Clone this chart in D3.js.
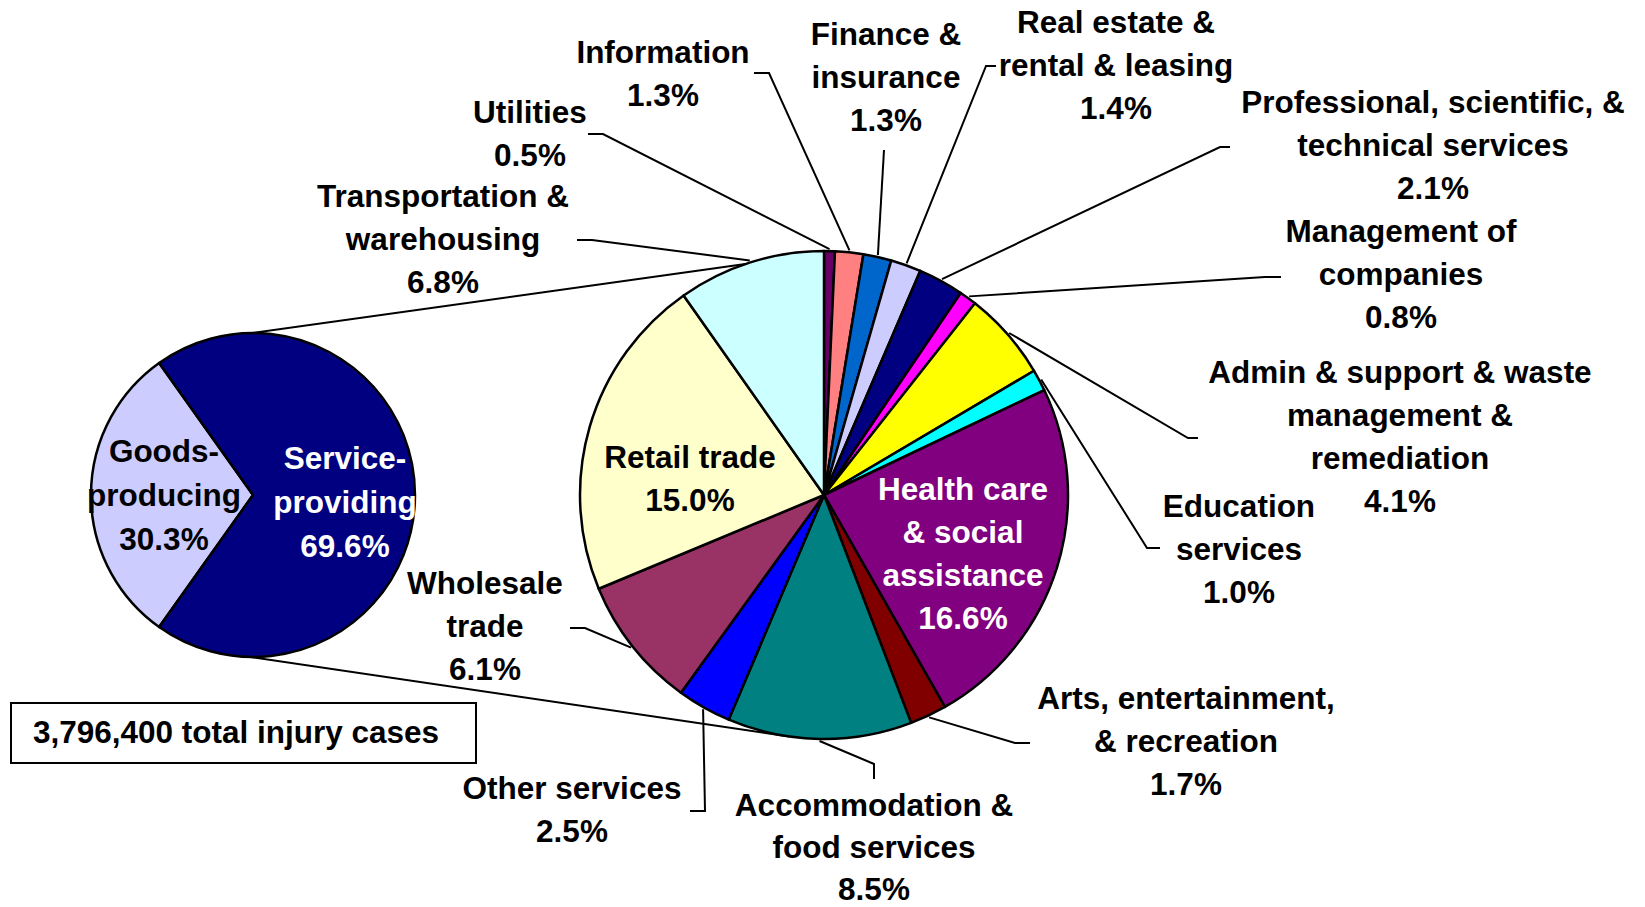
<!DOCTYPE html>
<html>
<head>
<meta charset="utf-8">
<script src="https://cdn.jsdelivr.net/npm/d3@7"></script>
<style>
  body { margin: 0; background: #fff; }
  text { font-family: "Liberation Sans", Arial, sans-serif; font-weight: bold; font-size: 31.5px; }
</style>
</head>
<body>
<script>
// service-providing industries, clockwise from 12 o'clock (percent of all cases)
var industries = ["Utilities", "Information", "Finance &\ninsurance", "Real estate &\nrental & leasing",
  "Professional, scientific, &\ntechnical services", "Management of\ncompanies",
  "Admin & support & waste\nmanagement &\nremediation", "Education\nservices",
  "Health care\n& social\nassistance", "Arts, entertainment,\n& recreation",
  "Accommodation &\nfood services", "Other services", "Wholesale\ntrade", "Retail trade",
  "Transportation &\nwarehousing"];
var shares = [0.5, 1.3, 1.3, 1.4, 2.1, 0.8, 4.1, 1.0, 16.6, 1.7, 8.5, 2.5, 6.1, 15.0, 6.8];
var colors = ["#660066", "#FF8080", "#0066CC", "#CCCCFF", "#000080", "#FF00FF", "#FFFF00", "#00FFFF",
  "#800080", "#800000", "#008080", "#0000FF", "#993366", "#FFFFCC", "#CCFFFF"];

var sectors = ["Goods-\nproducing", "Service-\nproviding"];
var sectorShares = [30.3, 69.6];
var sectorColors = ["#CCCCFF", "#000080"];

var totalLabel = "3,796,400 total injury cases";

// label layout: centre x, first baseline y, leader elbow and end (null = label inside slice)
var labelPos = [[530, 123], [663, 63], [886, 45], [1116, 33], [1433, 113], [1401, 242], [1400, 383],
  [1239, 517], [963, 500], [1186, 709], [874, 816], [572, 799], [485, 594], [690, 468], [443, 207]];
var leaders = [
  [[603, 134], [588, 134]], [[769, 73], [754, 73]], [[884, 150], [884, 150]], [[986, 66], [996, 66]],
  [[1220, 147], [1230, 147]], [[1265, 277], [1281, 277]], [[1188, 438], [1198, 438]],
  [[1147, 548], [1160, 548]], null, [[1015, 743], [1030, 743]], [[874, 764], [874, 779]],
  [[705, 811], [690, 811]], [[585, 628], [570, 628]], null, [[592, 240], [577, 240]]];
var sectorLabelPos = [[164, 462], [345, 469]];

var w = 1645, h = 907;
var lineH = 43;
var big = {x: 824, y: 495, r: 244};
var small = {x: 253, y: 495, r: 162};

var svg = d3.select("body").append("svg").attr("width", w).attr("height", h);

function pt(c, a, r) { return [c.x + r * Math.sin(a), c.y - r * Math.cos(a)]; }
function fmt(v) { return v.toFixed(1) + "%"; }

function addLabel(x, y, lines, fill, step) {
  var t = svg.append("text").attr("text-anchor", "middle").attr("fill", fill);
  lines.forEach(function(s, i) {
    t.append("tspan").attr("x", x).attr("y", y + i * (step || lineH)).text(s);
  });
}

// series lines between the two pies
var connect = [[pt(small, 0, small.r), pt(big, -18.8 * Math.PI / 180, big.r)],
               [pt(small, 181 * Math.PI / 180, small.r), pt(big, 188.2 * Math.PI / 180, big.r)]];
svg.selectAll("line.connect")
  .data(connect)
  .enter()
  .append("line")
  .attr("class", "connect")
  .attr("x1", function(d) { return d[0][0]; })
  .attr("y1", function(d) { return d[0][1]; })
  .attr("x2", function(d) { return d[1][0]; })
  .attr("y2", function(d) { return d[1][1]; })
  .attr("stroke", "#000")
  .attr("stroke-width", 2);

// small pie
var g0 = Math.PI * 1.5 - Math.PI * sectorShares[0] / d3.sum(sectorShares);
var pieSmall = d3.pie().sort(null).startAngle(g0).endAngle(g0 + 2 * Math.PI);
var arcSmall = d3.arc().innerRadius(0).outerRadius(small.r);
svg.append("g")
  .attr("transform", "translate(" + small.x + "," + small.y + ")")
  .selectAll("path")
  .data(pieSmall(sectorShares))
  .enter()
  .append("path")
  .attr("d", arcSmall)
  .attr("fill", function(d, i) { return sectorColors[i]; })
  .attr("stroke", "#000")
  .attr("stroke-width", 2.5)
  .attr("stroke-linejoin", "round");

// big pie
var pieBig = d3.pie().sort(null);
var arcs = pieBig(shares);
var arcBig = d3.arc().innerRadius(0).outerRadius(big.r);
svg.append("g")
  .attr("transform", "translate(" + big.x + "," + big.y + ")")
  .selectAll("path")
  .data(arcs)
  .enter()
  .append("path")
  .attr("d", arcBig)
  .attr("fill", function(d, i) { return colors[i]; })
  .attr("stroke", "#000")
  .attr("stroke-width", 2.5)
  .attr("stroke-linejoin", "round");

// leader lines
arcs.forEach(function(d, i) {
  if (!leaders[i]) return;
  var mid = (d.startAngle + d.endAngle) / 2;
  var p = [pt(big, mid, big.r + 2), leaders[i][0], leaders[i][1]];
  svg.append("path")
    .attr("d", d3.line()(p))
    .attr("fill", "none")
    .attr("stroke", "#000")
    .attr("stroke-width", 2);
});

// labels
industries.forEach(function(name, i) {
  var lines = name.split("\n").concat([fmt(shares[i])]);
  addLabel(labelPos[i][0], labelPos[i][1], lines, i === 8 ? "#fff" : "#000", i === 10 ? 42 : lineH);
});
sectors.forEach(function(name, i) {
  var lines = name.split("\n").concat([fmt(sectorShares[i])]);
  addLabel(sectorLabelPos[i][0], sectorLabelPos[i][1], lines, i === 1 ? "#fff" : "#000", 44);
});

// total box
svg.append("rect")
  .attr("x", 11).attr("y", 703)
  .attr("width", 465).attr("height", 60)
  .attr("fill", "#fff")
  .attr("stroke", "#000")
  .attr("stroke-width", 2);
svg.append("text")
  .attr("x", 236).attr("y", 743)
  .attr("text-anchor", "middle")
  .text(totalLabel);
</script>
</body>
</html>
